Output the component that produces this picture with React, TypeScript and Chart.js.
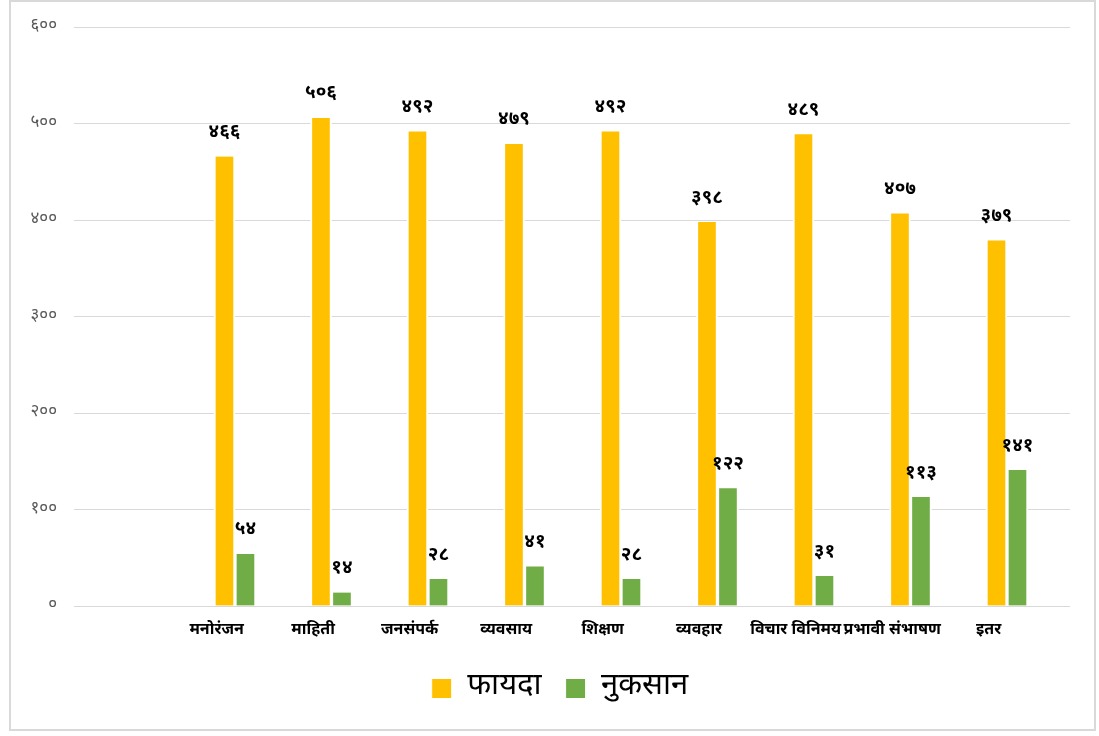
import React, { useEffect, useRef } from 'react';
import { Chart, registerables } from 'chart.js';

Chart.register(...registerables);

const categories = ['मनोरंजन', 'माहिती', 'जनसंपर्क', 'व्यवसाय', 'शिक्षण', 'व्यवहार', 'विचार विनिमय', 'प्रभावी संभाषण', 'इतर'];
const fayada = [466, 506, 492, 479, 492, 398, 489, 407, 379];
const nuksan = [54, 14, 28, 41, 28, 122, 31, 113, 141];
const seriesNames = ['फायदा', 'नुकसान'];
const seriesColors = ['#FFC000', '#70AD47'];
const yTicks = [0, 100, 200, 300, 400, 500, 600];

const FONT = '"Noto Sans Devanagari", "Lohit Devanagari", "Mangal", "Noto Sans", "DejaVu Sans", sans-serif';

const toDev = (n: number | string) =>
  String(n).replace(/[0-9]/g, (d) => String.fromCharCode(0x0966 + Number(d)));

const valueLabels = {
  id: 'valueLabels',
  afterDatasetsDraw(chart: any) {
    const ctx = chart.ctx;
    ctx.save();
    ctx.font = `bold 19px ${FONT}`;
    ctx.fillStyle = '#000000';
    ctx.textAlign = 'center';
    ctx.textBaseline = 'middle';
    chart.data.datasets.forEach((ds: any, di: number) => {
      const meta = chart.getDatasetMeta(di);
      meta.data.forEach((el: any, i: number) => {
        const v = ds.data[i].y;
        ctx.fillText(toDev(v), el.x, el.y - 23);
      });
    });
    ctx.restore();
  },
};

// shift the legend so it is centred like the original (slightly right of canvas centre)
const legendShift = {
  id: 'legendShift',
  afterLayout(chart: any) {
    const l = chart.legend;
    if (l) {
      l.left += 20;
      l.right += 20;
    }
  },
};

export default function App() {
  const ref = useRef<HTMLCanvasElement | null>(null);

  useEffect(() => {
    if (!ref.current) return;
    const mk = (vals: number[], k: number) => ({
      label: seriesNames[k],
      data: vals.map((v, i) => ({ x: i + 1, y: v })),
      backgroundColor: seriesColors[k],
      borderColor: '#ffffff',
      borderWidth: { left: 2, right: 2, top: 0, bottom: 0 },
      borderSkipped: false,
      barThickness: 21,
    });
    const chart = new Chart(ref.current, {
      type: 'bar',
      data: { datasets: [mk(fayada, 0), mk(nuksan, 1)] as any },
      plugins: [valueLabels, legendShift],
      options: {
        responsive: false,
        animation: false,
        layout: { padding: { left: 10, right: 29, top: 27, bottom: 22 } },
        scales: {
          x: {
            type: 'linear',
            offset: false,
            min: -0.668,
            max: 9.653,
            grid: { display: false },
            border: { display: false },
            afterBuildTicks: (s: any) => {
              s.ticks = categories.map((_, i) => ({ value: i + 1 - 0.19 }));
            },
            afterFit: (s: any) => {
              s.height = 43;
            },
            ticks: {
              autoSkip: false,
              maxRotation: 0,
              minRotation: 0,
              padding: 7,
              color: '#000000',
              font: { size: 16, weight: 'bold', family: FONT },
              callback: (_v: any, i: number) => categories[i],
            },
          },
          y: {
            min: 0,
            max: 600,
            afterBuildTicks: (s: any) => {
              s.ticks = yTicks.map((v) => ({ value: v }));
            },
            afterFit: (s: any) => {
              s.width = 64;
            },
            grid: { color: '#d9d9d9', drawTicks: false, lineWidth: 1 },
            border: { display: false },
            ticks: {
              padding: 17,
              color: '#595959',
              font: { size: 17, family: FONT },
              callback: (v: any) => toDev(v),
            },
          },
        },
        plugins: {
          legend: {
            position: 'bottom',
            labels: {
              boxWidth: 20,
              boxHeight: 20,
              padding: 24,
              color: '#000000',
              font: { size: 31, family: FONT },
            },
          },
          tooltip: { enabled: false },
        },
      } as any,
    });
    return () => chart.destroy();
  }, []);

  return (
    <div style={{ position: 'absolute', left: 0, top: 0, width: 1099, height: 736, background: '#ffffff' }}>
      <canvas ref={ref} width={1099} height={736} style={{ position: 'absolute', left: 0, top: 0, width: 1099, height: 736 }} />
      <div
        style={{
          position: 'absolute',
          left: 9,
          top: 0,
          width: 1083,
          height: 727,
          border: '2px solid #d9d9d9',
          pointerEvents: 'none',
        }}
      />
    </div>
  );
}
